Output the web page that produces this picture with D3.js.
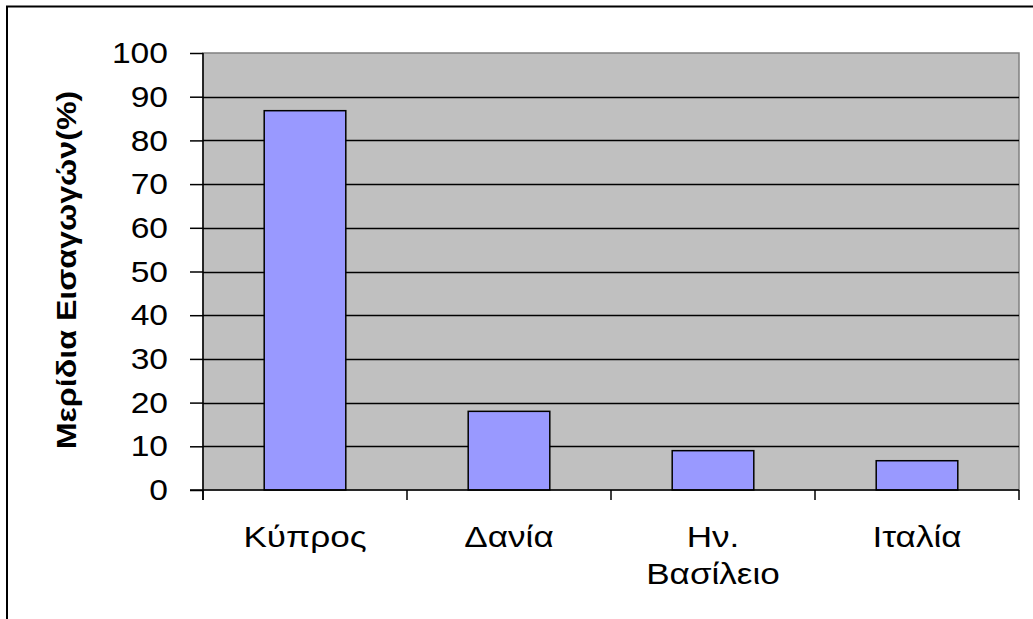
<!DOCTYPE html>
<html>
<head>
<meta charset="utf-8">
<script src="https://cdn.jsdelivr.net/npm/d3@7"></script>
<style>
  body { margin: 0; background: #fff; }
  text { font-family: "Liberation Sans", Arial, sans-serif; fill: #000; }
</style>
</head>
<body>
<svg width="1033" height="619"></svg>
<script>
const countries = ["Κύπρος", "Δανία", "Ην. Βασίλειο", "Ιταλία"];
const labelLines = [["Κύπρος"], ["Δανία"], ["Ην.", "Βασίλειο"], ["Ιταλία"]];
const shares = [86.8, 18, 9, 6.7];
const yTicks = [0, 10, 20, 30, 40, 50, 60, 70, 80, 90, 100];
const yTitle = "Μερίδια Εισαγωγών(%)";

const svg = d3.select("svg");
const plot = { left: 203, right: 1019, top: 53, bottom: 490 };
const stretch = 1.12; // the original text is drawn a little wide

// outer frame (runs off the right and bottom edges)
svg.append("path")
  .attr("d", "M7,625 L7,6.5 L1040,6.5")
  .attr("fill", "none").attr("stroke", "#000").attr("stroke-width", 2);

const x = d3.scaleBand().domain(countries).range([plot.left, plot.right]).paddingInner(0.6).paddingOuter(0.3);
const xOuter = d3.scaleBand().domain(countries).range([plot.left, plot.right]);
const y = d3.scaleLinear().domain([0, 100]).range([plot.bottom, plot.top]);

svg.append("rect")
  .attr("x", plot.left).attr("y", plot.top)
  .attr("width", plot.right - plot.left).attr("height", plot.bottom - plot.top)
  .attr("fill", "#c0c0c0").attr("stroke", "#808080").attr("stroke-width", 1.5);

// gridlines
svg.append("g").selectAll("line")
  .data(yTicks.filter(d => d > 0 && d < 100))
  .join("line")
  .attr("x1", plot.left).attr("x2", plot.right)
  .attr("y1", d => Math.round(y(d)) + 0.5).attr("y2", d => Math.round(y(d)) + 0.5)
  .attr("stroke", "#000").attr("stroke-width", 1.5);

// bars
svg.append("g").selectAll("rect")
  .data(countries)
  .join("rect")
  .attr("x", d => x(d))
  .attr("width", x.bandwidth())
  .attr("y", (d, i) => y(shares[i]))
  .attr("height", (d, i) => y(0) - y(shares[i]))
  .attr("fill", "#9999ff").attr("stroke", "#000").attr("stroke-width", 1.5);

// y axis
const yAxis = svg.append("g").attr("transform", `translate(${plot.left},0)`)
  .call(d3.axisLeft(y).tickValues(yTicks).tickSize(13).tickPadding(22));
yAxis.select(".domain").remove();
yAxis.selectAll("line").attr("stroke", "#000").attr("stroke-width", 1.5);
yAxis.selectAll("text")
  .attr("x", null)
  .attr("transform", `translate(-35,0) scale(${stretch},1)`)
  .attr("font-size", 30)
  .attr("font-family", "Liberation Sans, Arial, sans-serif")
  .attr("fill", "#000");
svg.append("line").attr("x1", plot.left).attr("x2", plot.left)
  .attr("y1", plot.top).attr("y2", plot.bottom + 10)
  .attr("stroke", "#000").attr("stroke-width", 1.5);

// x axis
svg.append("line").attr("x1", plot.left - 13).attr("x2", plot.right)
  .attr("y1", plot.bottom).attr("y2", plot.bottom)
  .attr("stroke", "#000").attr("stroke-width", 1.5);
svg.append("g").selectAll("line")
  .data(countries.concat(["end"]))
  .join("line")
  .attr("x1", (d, i) => i < countries.length ? xOuter(d) : plot.right)
  .attr("x2", (d, i) => i < countries.length ? xOuter(d) : plot.right)
  .attr("y1", plot.bottom).attr("y2", plot.bottom + 10)
  .attr("stroke", "#000").attr("stroke-width", 1.5);

const labels = svg.append("g").selectAll("g")
  .data(countries)
  .join("g");
labels.each(function (d, i) {
  d3.select(this).selectAll("text")
    .data(labelLines[i])
    .join("text")
    .attr("transform", (t, j) => `translate(${xOuter(d) + xOuter.bandwidth() / 2},${547 + j * 37}) scale(${stretch + 0.05},1)`)
    .attr("text-anchor", "middle")
    .attr("font-size", 30)
    .text(t => t);
});

// y title
svg.append("text")
  .attr("transform", `translate(76,270) rotate(-90) scale(${stretch + 0.03},1)`)
  .attr("text-anchor", "middle")
  .attr("font-size", 28)
  .attr("font-weight", "bold")
  .text(yTitle);
</script>
</body>
</html>
